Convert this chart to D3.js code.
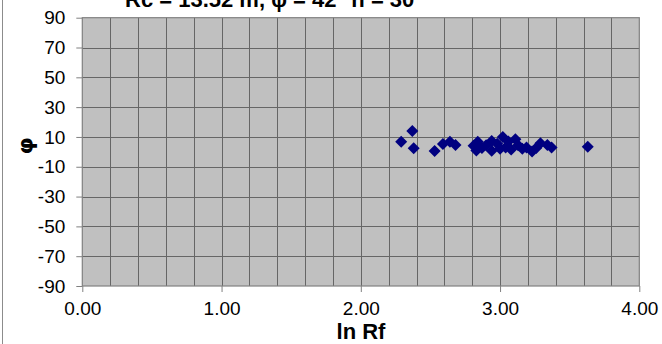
<!DOCTYPE html>
<html><head><meta charset="utf-8">
<script src="https://cdn.jsdelivr.net/npm/d3@7"></script>
<style>body{margin:0;background:#fff}svg{display:block}</style>
</head><body>
<script>
const titleText = "Rc = 13.52 m, \u03c6 = 42\u00b0  n = 30";
const xLabel = "ln Rf";
const yLabel = "\u03c6";
const xTicks = [0, 1, 2, 3, 4];
const yTicks = [90, 70, 50, 30, 10, -10, -30, -50, -70, -90];
const lnRf = [2.29,2.37,2.38,2.53,2.59,2.64,2.68,2.81,2.84,2.83,2.87,2.90,2.94,2.94,2.98,3.02,3.04,3.06,3.08,3.11,3.13,3.16,3.19,3.23,3.26,3.29,3.34,3.37,3.63,3.00];
const phi  = [6.8,14.0,2.4,0.6,5.3,6.8,4.6,4.1,6.8,0.9,2.5,4.5,7.3,0.8,5.5,10.0,3.0,7.0,1.5,8.4,4.5,2.0,3.0,0.3,2.5,5.7,4.6,3.0,3.5,2.0];

const W = 662, H = 344;
const L = 82.3, R = 639.3, T = 17.7, B = 286;
const svg = d3.select("body").append("svg").attr("width", W).attr("height", H);
const x = d3.scaleLinear().domain([0, 4]).range([L, R]);
const y = d3.scaleLinear().domain([-90, 90]).range([B, T]);

// outer chart border (left edge visible)
svg.append("line").attr("x1", 2.5).attr("x2", 2.5).attr("y1", 0).attr("y2", H)
  .attr("stroke", "#8c8c8c").attr("stroke-width", 1);

// title (cut off at top, as in the reference)
svg.append("text").attr("x", 125).attr("y", 7)
  .attr("font-family", "Liberation Sans, Arial, sans-serif").attr("font-weight", "bold")
  .attr("font-size", 22).attr("fill", "#000").text(titleText);

// plot background
svg.append("rect").attr("x", L).attr("y", T).attr("width", R - L).attr("height", B - T).attr("fill", "#c0c0c0");

// grid
const vGrid = d3.range(1, 20).map(i => i * 0.2);
svg.append("g").selectAll("line").data(vGrid).join("line")
  .attr("x1", d => Math.round(x(d)) + 0.5).attr("x2", d => Math.round(x(d)) + 0.5)
  .attr("y1", T).attr("y2", B).attr("stroke", "#666").attr("stroke-width", 1);
svg.append("g").selectAll("line").data(yTicks.filter(d => d !== 90 && d !== -90)).join("line")
  .attr("x1", L).attr("x2", R)
  .attr("y1", d => Math.round(y(d)) + 0.5).attr("y2", d => Math.round(y(d)) + 0.5)
  .attr("stroke", "#666").attr("stroke-width", 1);

// border
svg.append("rect").attr("x", L).attr("y", T).attr("width", R - L).attr("height", B - T)
  .attr("fill", "none").attr("stroke", "#808080").attr("stroke-width", 1.2);

// axes
const font = "Liberation Sans, Arial, sans-serif";
const yAxis = d3.axisLeft(y).tickValues(yTicks).tickSize(6).tickPadding(11).tickFormat(d => String(d));
const gy = svg.append("g").attr("transform", `translate(${L},0)`).call(yAxis);
gy.select(".domain").remove();
gy.selectAll(".tick line").attr("stroke", "#808080");
gy.selectAll("text").attr("font-family", font).attr("font-size", 19).attr("fill", "#000");

const xAxis = d3.axisBottom(x).tickValues(xTicks).tickSize(6).tickPadding(10).tickFormat(d => d.toFixed(2));
const gx = svg.append("g").attr("transform", `translate(0,${B})`).call(xAxis);
gx.select(".domain").remove();
gx.selectAll(".tick line").attr("stroke", "#808080");
gx.selectAll("text").attr("font-family", font).attr("font-size", 19).attr("fill", "#000");

// axis titles
svg.append("text").attr("x", 361).attr("y", 339).attr("text-anchor", "middle")
  .attr("font-family", font).attr("font-weight", "bold").attr("font-size", 22).text(xLabel);
svg.append("text").attr("transform", "translate(33,146) rotate(-90)").attr("text-anchor", "middle")
  .attr("font-family", "DejaVu Sans, sans-serif").attr("font-weight", "bold").attr("font-size", 22).text(yLabel);

// points
const data = lnRf.map((v, i) => ({ x: v, y: phi[i] }));
const sym = d3.symbol().type(d3.symbolSquare).size(72);
svg.append("g").selectAll("path").data(data).join("path")
  .attr("d", sym)
  .attr("transform", d => `translate(${x(d.x)},${y(d.y)}) rotate(45)`)
  .attr("fill", "#000080");
</script>
</body></html>
